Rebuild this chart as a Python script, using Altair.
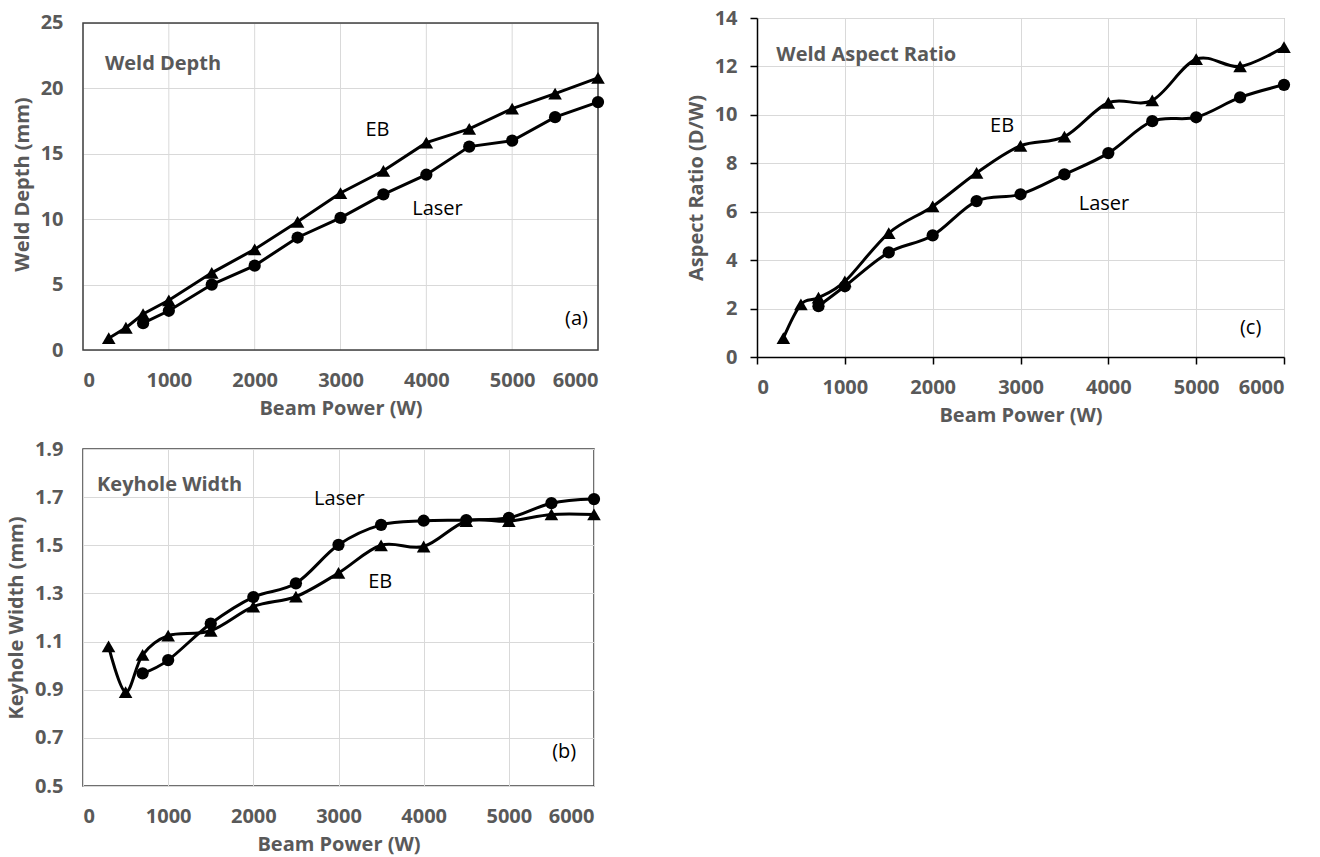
import altair as alt
import pandas as pd

# ---------------- data ----------------
power_eb = [300, 500, 700, 1000, 1500, 2000, 2500, 3000, 3500, 4000, 4500, 5000, 5500, 6000]
power_laser = [700, 1000, 1500, 2000, 2500, 3000, 3500, 4000, 4500, 5000, 5500, 6000]

depth_eb = [0.9, 1.7, 2.75, 3.8, 5.9, 7.7, 9.8, 12.0, 13.7, 15.85, 16.9, 18.45, 19.6, 20.8]
depth_laser = [2.05, 3.0, 5.0, 6.45, 8.6, 10.1, 11.9, 13.4, 15.55, 16.0, 17.8, 18.95]

width_eb = [1.08, 0.89, 1.045, 1.125, 1.145, 1.245, 1.287, 1.385, 1.50, 1.495, 1.60, 1.60, 1.628, 1.628]
width_laser = [0.968, 1.023, 1.175, 1.285, 1.342, 1.502, 1.585, 1.602, 1.605, 1.614, 1.675, 1.692]

ratio_eb = [0.78, 2.17, 2.45, 3.12, 5.12, 6.22, 7.6, 8.72, 9.1, 10.5, 10.6, 12.3, 12.0, 12.8]
ratio_laser = [2.1, 2.92, 4.32, 5.02, 6.44, 6.72, 7.54, 8.42, 9.74, 9.9, 10.72, 11.24]

series_names = ["EB", "Laser"]
x_ticks = [0, 1000, 2000, 3000, 4000, 5000, 6000]

FONT = "Open Sans"
GRAY = "#595959"
GRID = "#d9d9d9"


def frame(eb_vals, laser_vals):
    return pd.DataFrame({
        "power": power_eb + power_laser,
        "value": eb_vals + laser_vals,
        "series": [series_names[0]] * len(power_eb) + [series_names[1]] * len(power_laser),
    })


def panel(df, ytitle, ydomain, yvalues, yformat, interp, panel_title, title_xy,
          eb_xy, laser_xy, tag, tag_xy, w, h, ticks, view, box_top=None):
    xax = dict(values=x_ticks, grid=box_top is None, gridColor=GRID, gridWidth=1,
               labelFont=FONT, labelFontWeight="bold", labelFontSize=20, labelColor=GRAY,
               title="Beam Power (W)", titleFont=FONT, titleFontWeight="bold",
               titleFontSize=20, titleColor=GRAY, titlePadding=8, format="d")
    yax = dict(values=yvalues, grid=True, gridColor=GRID, gridWidth=1,
               labelFont=FONT, labelFontWeight="bold", labelFontSize=20, labelColor=GRAY,
               title=ytitle, titleFont=FONT, titleFontWeight="bold",
               titleFontSize=20, titleColor=GRAY, titlePadding=8, format=yformat)
    if ticks:
        for ax in (xax, yax):
            ax.update(domain=True, domainColor="#000000", domainWidth=1.5,
                      ticks=True, tickSize=7, tickColor="#000000", tickWidth=1.5,
                      labelPadding=13)
    else:
        for ax in (xax, yax):
            ax.update(domain=False, ticks=False, tickSize=0, labelPadding=20)

    x = alt.X("power:Q", scale=alt.Scale(domain=[0, 6000], nice=False, zero=False),
              axis=alt.Axis(**xax))
    y = alt.Y("value:Q", scale=alt.Scale(domain=ydomain, nice=False, zero=False),
              axis=alt.Axis(**yax))

    layers = []
    if box_top is not None:
        # panel drawn with a frame that stops at the top tick (plot area is a bit taller)
        grid_df = pd.DataFrame({"power": x_ticks})
        layers.append(alt.Chart(grid_df).mark_rule(color=GRID, strokeWidth=1).encode(
            x=x, y=alt.datum(ydomain[0]), y2=alt.datum(box_top)))
        layers.append(alt.Chart(pd.DataFrame({"k": [0]})).mark_rect(
            filled=False, stroke="#404040", strokeWidth=1.5).encode(
            x=alt.datum(0), x2=alt.datum(6000), y=alt.datum(ydomain[0]), y2=alt.datum(box_top)))

    base = alt.Chart(df)
    lines = base.mark_line(color="#000000", strokeWidth=3, interpolate=interp).encode(
        x=x, y=y, detail="series:N")
    pts = base.mark_point(filled=True, color="#000000", opacity=1).encode(
        x=x, y=y,
        shape=alt.Shape("series:N", scale=alt.Scale(domain=series_names,
                                                    range=["triangle-up", "circle"]),
                        legend=None),
        size=alt.Size("series:N", scale=alt.Scale(domain=series_names, range=[185, 150]),
                      legend=None))

    lab_title = pd.DataFrame({"power": [title_xy[0]], "value": [title_xy[1]], "t": [panel_title]})
    lab_black = pd.DataFrame({"power": [eb_xy[0], laser_xy[0], tag_xy[0]],
                              "value": [eb_xy[1], laser_xy[1], tag_xy[1]],
                              "t": ["EB", "Laser", tag]})
    t1 = alt.Chart(lab_title).mark_text(align="left", baseline="middle", font=FONT,
                                        fontWeight="bold", fontSize=20, color=GRAY).encode(
        x="power:Q", y="value:Q", text="t:N")
    t2 = alt.Chart(lab_black).mark_text(align="center", baseline="middle", font=FONT,
                                        fontSize=20, color="#000000").encode(
        x="power:Q", y="value:Q", text="t:N")
    layers += [lines, pts, t1, t2]
    return alt.layer(*layers).properties(width=w, height=h, view=view)


frame_view = alt.ViewBackground(stroke="#404040", strokeWidth=1.5)
no_view = alt.ViewBackground(stroke="transparent", strokeWidth=0)
light_view = alt.ViewBackground(stroke="#a6a6a6", strokeWidth=1)

pa = panel(frame(depth_eb, depth_laser), "Weld Depth (mm)", [0, 25.38], [0, 5, 10, 15, 20, 25], "d",
           "linear", "Weld Depth", (255, 21.9), (3430, 16.8), (4130, 10.8), "(a)", (5750, 2.35),
           515, 332, False, no_view, box_top=25)
pb = panel(frame(width_eb, width_laser), "Keyhole Width (mm)", [0.5, 1.9],
           [0.5, 0.7, 0.9, 1.1, 1.3, 1.5, 1.7, 1.9], ".1f",
           "cardinal", "Keyhole Width", (165, 1.75), (3490, 1.347), (3010, 1.692), "(b)", (5650, 0.64),
           511, 337, False, frame_view)
pc = panel(frame(ratio_eb, ratio_laser), "Aspect Ratio (D/W)", [0, 14], [0, 2, 4, 6, 8, 10, 12, 14], "d",
           "cardinal", "Weld Aspect Ratio", (220, 12.49), (2790, 9.55), (3950, 6.3), "(c)", (5620, 1.2),
           527, 339, True, light_view)

chart = alt.hconcat(
    alt.vconcat(pa, pb, spacing=20),
    pc,
    spacing=80,
).properties(
    padding={"left": 5, "top": 7, "right": 5, "bottom": 2},
    background="white",
)

chart.save("out.html", embed_options={"renderer": "svg", "actions": False})
